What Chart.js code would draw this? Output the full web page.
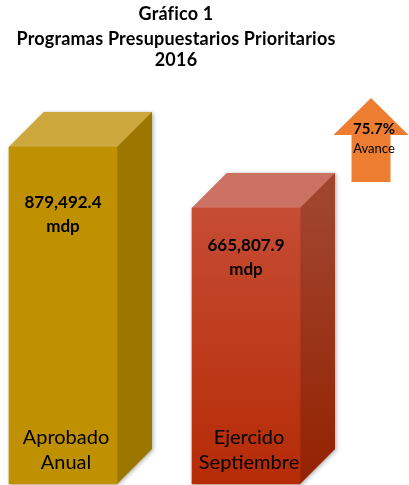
<!DOCTYPE html>
<html lang="es">
<head>
<meta charset="UTF-8">
<title>Gráfico 1</title>
<script src="https://cdn.jsdelivr.net/npm/chart.js"></script>
<style>
  body { margin: 0; background: #fff; }
  .wrap { position: relative; width: 409px; height: 485px; overflow: hidden; }
  canvas { position: absolute; left: 0; top: 0; }
  .title { position: absolute; left: 0; width: 352px; text-align: center;
           font-family: Lato, sans-serif; font-weight: bold; font-size: 18px;
           line-height: 20px; color: #000; white-space: nowrap; letter-spacing: 0.2px; }
</style>
</head>
<body>
<div class="wrap">
  <canvas id="chart" width="409" height="485"></canvas>
  <div class="title" style="top:3px">Gráfico 1</div>
  <div class="title" style="top:28px">Programas Presupuestarios Prioritarios</div>
  <div class="title" style="top:49px">2016</div>
</div>

<script>
// data
const categories = [['Aprobado', 'Anual'], ['Ejercido', 'Septiembre']];
const amounts = [879492.4, 665807.9];   // millones de pesos
const unit = 'mdp';
const progressText = 'Avance';

// hidden y range, the picture's bars are not drawn from zero
const Y_MIN = -301000;
const Y_MAX = 1044000;

// colours per bar: front top/bottom, top face, side top/bottom
const palette = [
    { front: ['#BF9000', '#BF9000'], top: '#CCA83D', side: ['#9C7700', '#9C7700'] },
    { front: ['#C64C34', '#B52B05'], top: '#CC7262', side: ['#A0442E', '#932200'] }
];

const fmt = v => v.toLocaleString('en-US', { minimumFractionDigits: 1, maximumFractionDigits: 1 });

function frontColor(c) {
    const p = palette[c.dataIndex];
    const chart = c.chart;
    if (!chart.chartArea) return p.front[0];
    const top = chart.scales.y.getPixelForValue(c.raw);
    const g = chart.ctx.createLinearGradient(0, top, 0, chart.chartArea.bottom);
    g.addColorStop(0, p.front[0]);
    g.addColorStop(1, p.front[1]);
    return g;
}

const box3d = {
    id: 'box3d',
    beforeDatasetsDraw(chart, args, opts) {
        const ctx = chart.ctx;
        const d = opts.depth;
        chart.getDatasetMeta(0).data.forEach((bar, i) => {
            const { x, y, base, width } = bar.getProps(['x', 'y', 'base', 'width'], true);
            const l = x - width / 2, r = x + width / 2;
            const p = palette[i];

            // soft shadow round the whole block
            ctx.save();
            ctx.shadowColor = 'rgba(0,0,0,0.35)';
            ctx.shadowBlur = 4;
            ctx.shadowOffsetX = 1;
            ctx.shadowOffsetY = 1;
            ctx.beginPath();
            ctx.moveTo(l, base);
            ctx.lineTo(l, y);
            ctx.lineTo(l + d, y - d);
            ctx.lineTo(r + d, y - d);
            ctx.lineTo(r + d, base - d);
            ctx.lineTo(r, base);
            ctx.closePath();
            ctx.fillStyle = p.top;
            ctx.fill();
            ctx.restore();

            // top face
            ctx.beginPath();
            ctx.moveTo(l, y);
            ctx.lineTo(l + d, y - d);
            ctx.lineTo(r + d, y - d);
            ctx.lineTo(r, y);
            ctx.closePath();
            ctx.fillStyle = p.top;
            ctx.fill();

            // side face
            const g = ctx.createLinearGradient(0, y, 0, base);
            g.addColorStop(0, p.side[0]);
            g.addColorStop(1, p.side[1]);
            ctx.beginPath();
            ctx.moveTo(r, y);
            ctx.lineTo(r + d, y - d);
            ctx.lineTo(r + d, base - d);
            ctx.lineTo(r, base);
            ctx.closePath();
            ctx.fillStyle = g;
            ctx.fill();
        });
    },
    afterDatasetsDraw(chart, args, opts) {
        const ctx = chart.ctx;
        ctx.save();
        ctx.fillStyle = '#000';
        ctx.textAlign = 'center';
        ctx.textBaseline = 'middle';
        chart.getDatasetMeta(0).data.forEach((bar, i) => {
            const { x, y, base } = bar.getProps(['x', 'y', 'base'], true);
            ctx.font = 'bold 17px Lato';
            ctx.fillText(fmt(amounts[i]), x, y + opts.valueOffset[i]);
            ctx.fillText(unit, x, y + opts.valueOffset[i] + 24);
            ctx.font = '20px Lato';
            const lines = chart.data.labels[i];
            lines.forEach((t, k) => {
                ctx.fillText(t, x + 3, base - 46 + k * 25);
            });
        });
        ctx.restore();
    },
    afterDraw(chart, args, opts) {
        // up arrow with the share exercised
        const ctx = chart.ctx;
        const a = opts.arrow;
        ctx.save();
        ctx.beginPath();
        ctx.moveTo(a.cx, a.top);
        ctx.lineTo(a.cx + a.headW / 2, a.top + a.headH);
        ctx.lineTo(a.cx + a.shaftW / 2, a.top + a.headH);
        ctx.lineTo(a.cx + a.shaftW / 2, a.bottom);
        ctx.lineTo(a.cx - a.shaftW / 2, a.bottom);
        ctx.lineTo(a.cx - a.shaftW / 2, a.top + a.headH);
        ctx.lineTo(a.cx - a.headW / 2, a.top + a.headH);
        ctx.closePath();
        ctx.fillStyle = '#ED7D31';
        ctx.fill();

        const pct = (amounts[1] / amounts[0] * 100).toFixed(1) + '%';
        ctx.fillStyle = '#000';
        ctx.textAlign = 'center';
        ctx.textBaseline = 'middle';
        ctx.font = 'bold 15px Lato';
        ctx.fillText(pct, a.cx + 3, a.top + 31);
        ctx.font = '13px Lato';
        ctx.fillText(progressText, a.cx + 3, a.top + 51);
        ctx.restore();
    }
};

new Chart(document.getElementById('chart'), {
    type: 'bar',
    data: {
        labels: categories,
        datasets: [{
            data: amounts,
            base: Y_MIN,
            backgroundColor: frontColor,
            borderWidth: 0,
            barThickness: 108,
            clip: false
        }]
    },
    options: {
        responsive: false,
        animation: false,
        devicePixelRatio: 1,
        layout: { padding: { left: 63, right: 163, top: 100, bottom: 1 } },
        scales: {
            x: { type: 'category', offset: false, display: false },
            y: { display: false, min: Y_MIN, max: Y_MAX }
        },
        plugins: {
            legend: { display: false },
            tooltip: { enabled: false },
            box3d: {
                depth: 35,
                valueOffset: [56, 38],
                arrow: { cx: 371, top: 98, bottom: 182, headW: 75, headH: 37, shaftW: 39 }
            }
        }
    },
    plugins: [box3d]
});
</script>
</body>
</html>
